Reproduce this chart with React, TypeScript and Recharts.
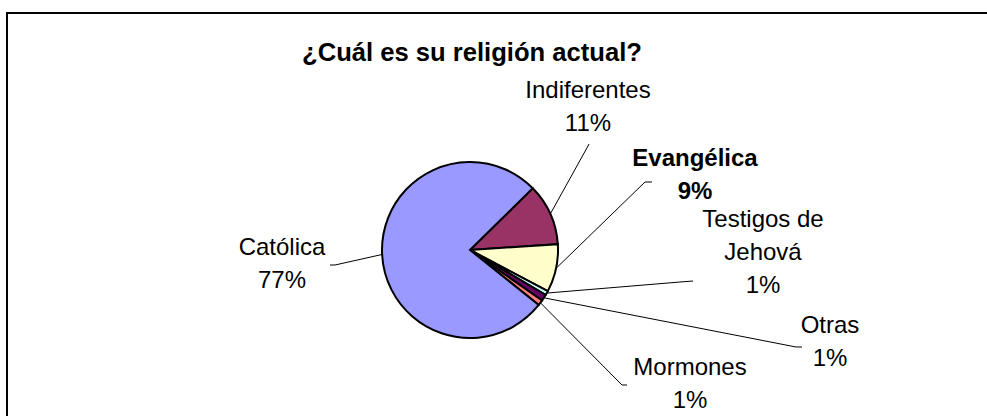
import { PieChart, Pie, Cell } from 'recharts'

const categories = ['Indiferentes', 'Evangélica', 'Testigos de Jehová', 'Otras', 'Mormones', 'Católica']
const shares = [11.3, 8.8, 0.8, 1.2, 1.0, 76.9]
const colors = ['#993366', '#FFFFCC', '#CCFFFF', '#660066', '#FF8080', '#9999FF']

const data = categories.map((name, i) => ({ name, value: shares[i] }))

// label layout, relative to pie centre
const labelLayout: Record<string, { lines: string[]; x: number; y: number; elbow: [number, number]; end: [number, number]; bold?: boolean }> = {
  'Indiferentes': { lines: ['Indiferentes'], x: 118, y: -160, elbow: [118, -104], end: [119, -106] },
  'Evangélica': { lines: ['Evangélica'], x: 225, y: -92, elbow: [175, -68], end: [182, -68], bold: true },
  'Testigos de Jehová': { lines: ['Testigos de', 'Jehová'], x: 293, y: -31, elbow: [210, 32], end: [223, 31] },
  'Otras': { lines: ['Otras'], x: 360, y: 75, elbow: [326, 97], end: [332, 97] },
  'Mormones': { lines: ['Mormones'], x: 220, y: 117, elbow: [152, 135], end: [157, 135] },
  'Católica': { lines: ['Católica'], x: -188, y: -3, elbow: [-135, 15], end: [-140, 15] },
}

const RADIAN = Math.PI / 180

const renderLabel = (props: any) => {
  const { cx, cy, midAngle, outerRadius, percent, name } = props
  const lay = labelLayout[name]
  if (!lay) return null
  const px = cx + outerRadius * Math.cos(-midAngle * RADIAN)
  const py = cy + outerRadius * Math.sin(-midAngle * RADIAN)
  const lines = [...lay.lines, `${Math.round(percent * 100)}%`]
  return (
    <g>
      <polyline
        points={`${px},${py} ${cx + lay.elbow[0]},${cy + lay.elbow[1]} ${cx + lay.end[0]},${cy + lay.end[1]}`}
        fill="none"
        stroke="#000"
        strokeWidth={1}
      />
      {lines.map((t, i) => (
        <text
          key={i}
          x={cx + lay.x}
          y={cy + lay.y + i * 33}
          dy="0.35em"
          textAnchor="middle"
          fontFamily="'Liberation Sans', Arial, sans-serif"
          fontSize={24}
          fontWeight={lay.bold ? 'bold' : 'normal'}
          fill="#000"
        >
          {t}
        </text>
      ))}
    </g>
  )
}

export default function App() {
  return (
    <div style={{ position: 'fixed', left: 0, top: 0, width: 987, height: 416, background: '#fff', overflow: 'hidden' }}>
      <div
        style={{
          position: 'absolute',
          left: 6,
          top: 12,
          width: 990,
          height: 410,
          borderTop: '2px solid #000',
          borderLeft: '2px solid #000',
        }}
      />
      <div
        style={{
          position: 'absolute',
          left: 0,
          top: 35,
          width: 944,
          textAlign: 'center',
          fontFamily: "'Liberation Sans', Arial, sans-serif",
          fontWeight: 'bold',
          fontSize: 25.6,
          lineHeight: '34px',
          color: '#000',
        }}
      >
        ¿Cuál es su religión actual?
      </div>
      <div style={{ position: 'absolute', left: 0, top: 0 }}>
        <PieChart width={987} height={416} margin={{ top: 0, right: 0, bottom: 0, left: 0 }}>
          <Pie
            data={data}
            dataKey="value"
            nameKey="name"
            cx={470}
            cy={250}
            outerRadius={88}
            startAngle={44.5}
            endAngle={-315.5}
            stroke="#000"
            strokeWidth={2}
            label={renderLabel}
            labelLine={false}
            isAnimationActive={false}
          >
            {data.map((d, i) => (
              <Cell key={d.name} fill={colors[i]} />
            ))}
          </Pie>
        </PieChart>
      </div>
    </div>
  )
}
